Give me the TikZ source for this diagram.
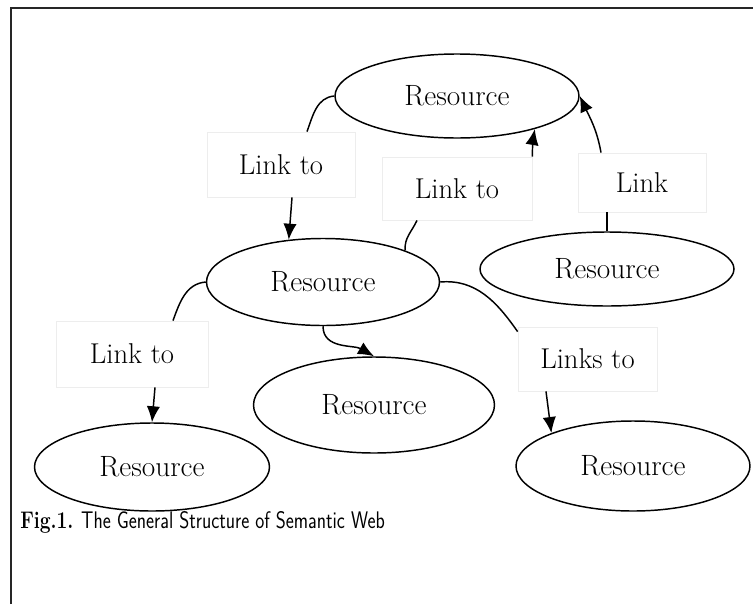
\documentclass[tikz,border=0pt]{standalone}
\usetikzlibrary{shapes.geometric,arrows.meta,calc}
\begin{document}
\begin{tikzpicture}[x=0.75pt,y=-0.75pt,
  res/.style={ellipse,draw,line width=1.1pt,inner sep=0pt,font=\fontsize{22}{26}\selectfont},
  lbl/.style={draw=black!7,line width=0.6pt,inner sep=0pt,font=\fontsize{21.5}{26}\selectfont},
  conn/.style={line width=1.1pt},
  arr/.style={line width=1.1pt,-{Latex[length=12pt,width=10pt]}}]
\useasboundingbox (0,0) rectangle (753,604);
% frame
\draw[line width=1.5pt,black!85] (11,604) -- (11,8) -- (753,8);
% resources
\node[res,minimum width=183pt,minimum height=63pt] (top) at (457,96) {Resource};
\node[res,minimum width=174.75pt,minimum height=65.25pt] (mid) at (323,282) {Resource};
\node[res,minimum width=190.5pt,minimum height=55.5pt] (rgt) at (607,269) {Resource};
\node[res,minimum width=176.25pt,minimum height=66pt] (bl) at (152,467) {Resource};
\node[res,minimum width=180.75pt,minimum height=72pt] (bm) at (374,405) {Resource};
\node[res,minimum width=175.5pt,minimum height=67.5pt] (br) at (633,466) {Resource};
% labels
\node[lbl,minimum width=111pt,minimum height=48.75pt] (l1) at (281,164.5) {Link to};
\node[lbl,minimum width=112.5pt,minimum height=47.25pt] (l2) at (457,188.5) {Link to};
\node[lbl,minimum width=96pt,minimum height=44.25pt] (l3) at (642,182.5) {Link};
\node[lbl,minimum width=114pt,minimum height=49.5pt] (l4) at (132,354) {Link to};
\node[lbl,minimum width=104.25pt,minimum height=48pt] (l5) at (587.5,359) {Links to};
% connectors
\draw[conn] (top.west) to[out=185,in=70] ($(l1.north)+(26,0)$);
\draw[arr] ($(l1.south)+(11,0)$) -- (mid.129);
\draw[conn] (mid.21) to[out=95,in=-115] ($(l2.south)+(-40,0)$);
\draw[arr] (l2.north east) to[bend left=5] (top.-23);
\draw[conn] (rgt.north) -- ($(l3.south)+(-35,0)$);
\draw[arr] ($(l3.north)+(-41,0)$) to[out=100,in=-65] (top.east);
\draw[conn] (mid.west) to[out=185,in=70] ($(l4.north)+(41,0)$);
\draw[arr] ($(l4.south)+(23,0)$) -- (bl.north);
\draw[arr] (mid.south) to[out=-90,in=150] (bm.north);
\draw[conn] (mid.east) to[out=5,in=125] ($(l5.north west)+(0,5)$);
\draw[arr] ($(l5.south)+(-41.5,0)$) -- (br.158);
% caption
\node[anchor=base west,inner sep=0pt] (cap) at (20,528)
  {\scalebox{0.8}[1]{\fontsize{18}{21}\selectfont\textbf{Fig.1.} \sffamily The General Structure of Semantic Web}};
\end{tikzpicture}
\end{document}
